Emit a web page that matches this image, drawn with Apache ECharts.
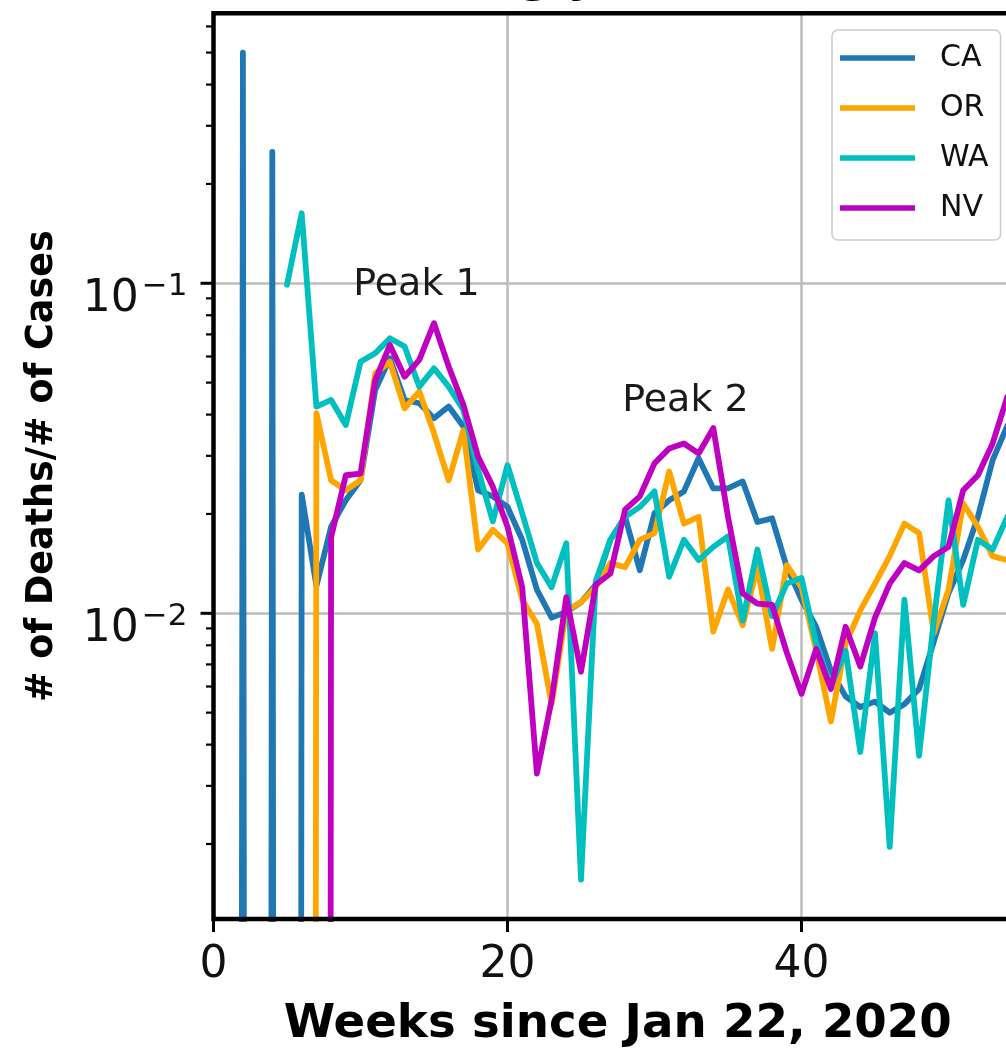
<!DOCTYPE html>
<html>
<head>
<meta charset="utf-8">
<script src="https://cdn.jsdelivr.net/npm/echarts@6/dist/echarts.min.js"></script>
<style>
html,body{margin:0;padding:0;background:#ffffff;}
#chart{width:1006px;height:1052px;}
</style>
</head>
<body>
<div id="chart"></div>
<script>
// ---------------- data ----------------
const weeks = [1,2,3,4,5,6,7,8,9,10,11,12,13,14,15,16,17,18,19,20,21,22,23,24,25,26,27,28,29,30,31,32,33,34,35,36,37,38,39,40,41,42,43,44,45,46,47,48,49,50,51,52,53,54];

// 0 = no deaths that week (drawn to the bottom of the log axis), null = no data
const caValues = [0,0.50,0,0.25,0,0.0229,0.0121,0.0183,0.0220,0.0253,0.0475,0.0593,0.0443,0.0433,0.0390,0.0423,0.0368,0.0236,0.0226,0.0210,0.0167,0.0118,0.0097,0.0101,0.0108,0.0122,0.0167,0.0196,0.0135,0.0201,0.0220,0.0234,0.0295,0.0239,0.0239,0.0251,0.0189,0.0194,0.0138,0.0110,0.0091,0.0067,0.0056,0.0052,0.0054,0.0050,0.0053,0.0059,0.0082,0.0115,0.0145,0.0196,0.0291,0.0370];
const orValues = [0,0,0,0,0,0,0.0404,0.0253,0.0236,0.0253,0.0534,0.0578,0.0418,0.0470,0.0351,0.0253,0.0359,0.0156,0.0179,0.0163,0.0110,0.0093,0.0053,0.0102,0.0108,0.0120,0.0142,0.0138,0.0167,0.0175,0.0269,0.0187,0.0196,0.0088,0.0118,0.0092,0.0138,0.0078,0.0140,0.0120,0.0077,0.0047,0.0081,0.0102,0.0123,0.0149,0.0187,0.0175,0.0087,0.0118,0.0215,0.0183,0.0149,0.0145];
const waValues = [null,null,null,null,0.099,0.163,0.0423,0.0443,0.0372,0.0578,0.0614,0.0681,0.0643,0.0486,0.0552,0.0486,0.0413,0.0272,0.0190,0.0281,0.0201,0.0142,0.0120,0.0163,0.00156,0.0125,0.0167,0.0196,0.0210,0.0234,0.0129,0.0167,0.0145,0.0159,0.0171,0.0095,0.0156,0.0098,0.0123,0.0128,0.0081,0.0060,0.0077,0.0038,0.0087,0.00196,0.0110,0.0037,0.0095,0.0220,0.0106,0.0167,0.0156,0.0196];
const nvValues = [0,0,0,0,0,0,0,0.0170,0.0262,0.0265,0.0509,0.0650,0.0521,0.0586,0.0757,0.0559,0.0428,0.0298,0.0242,0.0183,0.0120,0.00327,0.00546,0.0112,0.00665,0.0122,0.0132,0.0206,0.0226,0.0285,0.0316,0.0327,0.0305,0.0364,0.0196,0.0115,0.0107,0.0106,0.0076,0.0057,0.0078,0.0059,0.0091,0.0069,0.0097,0.0123,0.0142,0.0135,0.0149,0.0159,0.0236,0.0262,0.0327,0.0453];

const seriesNames = ['CA', 'OR', 'WA', 'NV'];
const seriesColors = ['#1f77b4', '#ffa500', '#00bfbf', '#bf00bf'];

const xTickValues = [0, 20, 40];
const yMajorTicks = [0.01, 0.1];
const yMinorTicks = [0.002,0.003,0.004,0.005,0.006,0.007,0.008,0.009,0.02,0.03,0.04,0.05,0.06,0.07,0.08,0.09,0.2,0.3,0.4,0.5,0.6];

const peakLabels = ['Peak 1', 'Peak 2'];
const peakWeeks = [9.5, 27.8];
const peakValues = [0.09, 0.04];

const titleText = 'Death Rate during year 2020';
const xAxisTitle = 'Weeks since Jan 22, 2020';
const yAxisTitle = '# of Deaths/# of Cases';

// ---------------- chart ----------------
const FONT = 'DejaVu Sans';
const X_MIN = 0, X_MAX = 55;
const Y_MIN = 0.001185, Y_MAX = 0.6577;
const LOG_FLOOR = 1e-40; // stands in for zero on the log axis

function toPairs(vals) {
  return weeks.map((w, i) => {
    const v = vals[i];
    if (v === null || v === undefined) return [w, '-'];
    return [w, v === 0 ? LOG_FLOOR : v];
  });
}
const allValues = [caValues, orValues, waValues, nvValues];

const chart = echarts.init(document.getElementById('chart'), null, {renderer: 'canvas'});

const option = {
  animation: false,
  backgroundColor: '#ffffff',
  textStyle: {fontFamily: FONT},
  grid: {
    left: 213.5, top: 13.3, width: 808.5, height: 905.7,
    containLabel: false, outerBoundsMode: 'none',
    show: true, borderColor: '#000', borderWidth: 4.5, backgroundColor: 'transparent',
    z: 10
  },
  legend: {
    data: seriesNames,
    orient: 'vertical',
    left: 832, top: 30,
    padding: [13, 12, 17, 8],
    itemWidth: 75, itemHeight: 5.5, itemGap: 20,
    icon: 'rect',
    backgroundColor: 'rgba(255,255,255,0.85)',
    borderColor: '#cccccc', borderWidth: 1.5, borderRadius: 6,
    textStyle: {fontFamily: FONT, fontSize: 30, lineHeight: 30, color: '#111', padding: [0, 0, 0, 20]},
    selectedMode: false,
    z: 20
  },
  xAxis: {
    type: 'value', min: X_MIN, max: X_MAX, interval: 20,
    axisLine: {show: false},
    axisTick: {show: true, inside: false, length: 13, lineStyle: {color: '#000', width: 3}},
    axisLabel: {
      margin: 25, fontSize: 44, fontFamily: FONT, color: '#111',
      formatter: v => (xTickValues.indexOf(v) >= 0 ? String(v) : '')
    },
    splitLine: {show: true, lineStyle: {color: '#bcbcbc', width: 2.5}},
    name: xAxisTitle, nameLocation: 'middle', nameGap: 82,
    nameTextStyle: {fontSize: 46.7, fontWeight: 'bold', fontFamily: FONT, color: '#000'}
  },
  yAxis: {
    type: 'log', logBase: 10, min: Y_MIN, max: Y_MAX,
    axisLine: {show: false},
    axisTick: {show: false},
    minorTick: {show: false},
    splitLine: {show: true, lineStyle: {color: '#bcbcbc', width: 2.5}},
    axisLabel: {
      margin: 26,
      formatter: v => {
        const l = Math.log10(v), e = Math.round(l);
        if (Math.abs(l - e) > 1e-6 || yMajorTicks.every(t => Math.abs(Math.log10(t) - l) > 1e-6)) return '';
        return '{b|10}{s|' + (e < 0 ? '\u2212' + (-e) : e) + '}';
      },
      rich: {
        b: {fontSize: 44, lineHeight: 44, padding: [16, 0, 0, 0], verticalAlign: 'top', fontFamily: FONT, color: '#111'},
        s: {fontSize: 31, lineHeight: 31, padding: [10.5, 0, 0, 3], verticalAlign: 'top', fontFamily: FONT, color: '#111'}
      }
    },
    name: yAxisTitle, nameLocation: 'middle', nameGap: 152,
    nameTextStyle: {fontSize: 36.5, fontWeight: 'bold', fontFamily: FONT, color: '#000'}
  },
  series: seriesNames.map((name, i) => ({
    name: name,
    type: 'line',
    data: toPairs(allValues[i]),
    symbol: 'none', showSymbol: false,
    clip: true,
    connectNulls: false,
    color: seriesColors[i],
    itemStyle: {color: seriesColors[i]},
    lineStyle: {color: seriesColors[i], width: 5.8, join: 'round', cap: 'round'},
    emphasis: {disabled: true},
    z: 2
  }))
};

chart.setOption(option);

// ticks, annotations and title drawn through the axes' own scales
const elements = [];
const x0 = chart.convertToPixel({xAxisIndex: 0}, X_MIN);
yMajorTicks.forEach(v => {
  const y = chart.convertToPixel({yAxisIndex: 0}, v);
  elements.push({type: 'line', z: 100, silent: true, shape: {x1: x0 - 13, y1: y, x2: x0, y2: y}, style: {stroke: '#000', lineWidth: 3}});
});
yMinorTicks.forEach(v => {
  const y = chart.convertToPixel({yAxisIndex: 0}, v);
  elements.push({type: 'line', z: 100, silent: true, shape: {x1: x0 - 7.5, y1: y, x2: x0, y2: y}, style: {stroke: '#000', lineWidth: 2.2}});
});
const PEAK_FONT = 38;
peakLabels.forEach((t, i) => {
  const p = chart.convertToPixel({gridIndex: 0}, [peakWeeks[i], peakValues[i]]);
  elements.push({
    type: 'text', z: 50, silent: true, x: p[0], y: p[1] - 0.346 * PEAK_FONT,
    style: {text: t, fontSize: PEAK_FONT, fontFamily: FONT, fill: '#1a1a1a', align: 'left', verticalAlign: 'middle'}
  });
});
elements.push({
  type: 'text', z: 50, silent: true, x: 75, y: -21,
  style: {text: titleText, fontSize: 46, fontWeight: 'bold', fontFamily: FONT, fill: '#000', align: 'left', verticalAlign: 'middle'}
});
chart.setOption({graphic: {elements: elements}});
</script>
</body>
</html>
